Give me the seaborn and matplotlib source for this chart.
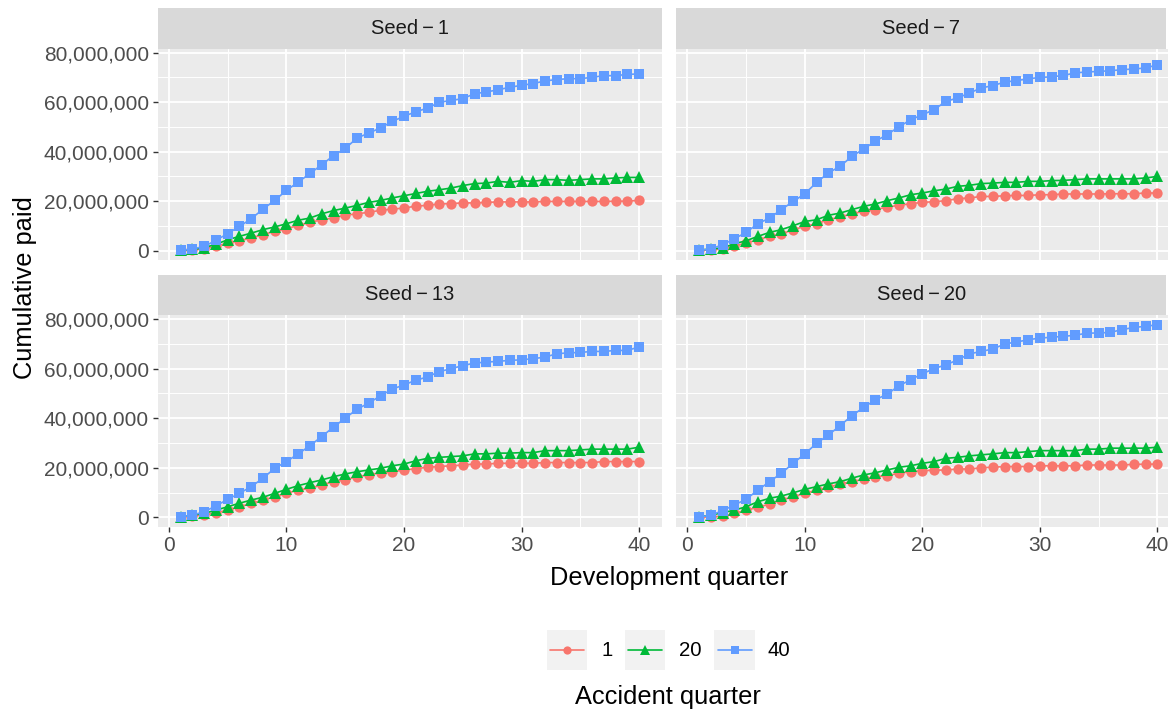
import numpy as np
import pandas as pd
import matplotlib
matplotlib.use("Agg")
import matplotlib.pyplot as plt
import seaborn as sns
from matplotlib.ticker import FuncFormatter, MultipleLocator

# ---- data (cumulative paid, in millions) ----
dev_quarter = list(range(1, 41))
seeds = [1, 7, 13, 20]
accident_quarters = [1, 20, 40]

seed1_aq1 = [0.1, 0.3, 0.7, 1.8, 3.1, 4.0, 5.1, 6.5, 7.8, 8.9, 10.2, 11.4, 12.5, 13.2, 14.3, 14.9,
             15.5, 16.3, 16.8, 17.2, 18.0, 18.3, 18.9, 19.0, 19.3, 19.3, 19.5, 19.7, 19.7, 19.7,
             19.7, 19.9, 19.9, 19.9, 19.9, 19.9, 19.9, 20.0, 20.0, 20.3]
seed1_aq20 = [0.2, 0.5, 1.2, 2.6, 4.4, 5.8, 7.1, 8.5, 9.6, 10.9, 12.3, 13.2, 14.9, 16.2, 17.2, 18.3,
              19.5, 20.3, 21.3, 22.2, 23.1, 24.0, 24.6, 25.3, 26.3, 27.1, 27.3, 28.0, 27.6, 28.3,
              28.0, 28.7, 28.7, 28.4, 28.7, 29.0, 29.0, 29.4, 29.6, 29.6]
seed1_aq40 = [0.1, 0.7, 1.7, 4.2, 6.9, 9.8, 12.9, 16.8, 20.3, 24.4, 27.7, 31.2, 34.7, 38.4, 41.3,
              45.5, 47.5, 49.6, 52.2, 54.3, 56.1, 57.6, 59.9, 60.7, 61.4, 63.4, 64.1, 65.0, 66.0,
              66.8, 67.5, 68.6, 69.1, 69.5, 69.5, 70.0, 70.7, 70.7, 71.2, 71.4]

seed7_aq1 = [0.1, 0.3, 0.7, 1.8, 3.1, 4.4, 5.8, 6.7, 8.5, 9.8, 10.9, 12.5, 13.6, 14.9, 15.9, 16.6,
             17.6, 18.3, 19.0, 19.5, 19.8, 20.2, 21.0, 21.3, 21.9, 21.9, 22.2, 22.3, 22.3, 22.6,
             22.6, 22.9, 22.9, 22.9, 22.9, 23.0, 23.0, 23.0, 23.3, 23.3]
seed7_aq20 = [0.2, 0.7, 1.1, 2.8, 4.0, 5.8, 7.4, 8.5, 10.1, 11.8, 12.5, 14.3, 15.2, 16.6, 17.9, 18.9,
              20.2, 21.3, 22.6, 23.3, 24.2, 24.9, 26.0, 26.4, 27.1, 27.3, 27.6, 27.6, 28.0, 28.0,
              28.3, 28.4, 28.7, 29.0, 29.0, 29.0, 29.0, 29.0, 29.4, 30.0]
seed7_aq40 = [0.1, 0.7, 2.4, 4.8, 7.4, 10.9, 13.2, 16.6, 19.9, 23.0, 27.6, 31.4, 34.1, 38.1, 41.1,
              44.2, 46.9, 50.0, 52.9, 54.9, 57.0, 60.3, 61.7, 63.7, 65.7, 66.7, 68.1, 68.7, 69.4,
              70.0, 70.2, 70.8, 71.8, 72.2, 72.4, 72.7, 73.1, 73.4, 73.8, 75.1]

seed13_aq1 = [0.1, 0.5, 0.9, 1.9, 2.9, 4.3, 5.6, 7.0, 8.3, 9.7, 11.0, 11.7, 13.0, 14.4, 15.1, 16.4,
              17.1, 18.0, 18.4, 19.1, 19.6, 20.2, 20.5, 20.8, 21.1, 21.5, 21.5, 21.8, 21.8, 21.8,
              21.8, 22.1, 22.1, 22.1, 22.1, 22.1, 22.5, 22.5, 22.5, 22.5]
seed13_aq20 = [0.2, 0.9, 1.6, 2.9, 4.3, 5.7, 7.0, 8.1, 9.7, 11.3, 12.8, 14.0, 15.1, 16.4, 17.5, 18.4,
               19.1, 19.8, 20.8, 21.5, 22.8, 23.8, 24.2, 24.5, 24.8, 25.6, 25.6, 25.9, 25.9, 26.1,
               26.1, 26.9, 26.9, 26.9, 27.2, 27.5, 27.5, 27.5, 27.5, 28.3]
seed13_aq40 = [0.2, 0.9, 2.3, 4.6, 7.3, 9.7, 12.4, 15.8, 19.8, 22.5, 25.6, 28.9, 32.6, 36.4, 40.0,
               43.6, 46.1, 49.0, 51.7, 53.4, 55.3, 56.6, 58.8, 59.9, 61.2, 62.2, 62.6, 62.9, 63.3,
               63.5, 64.0, 64.6, 66.0, 66.3, 66.5, 66.9, 66.9, 67.3, 67.3, 68.7]

seed20_aq1 = [0.0, 0.2, 0.5, 1.6, 2.9, 4.0, 5.4, 7.0, 8.3, 9.7, 11.0, 12.1, 13.5, 14.4, 15.4, 16.4,
              16.8, 17.8, 18.4, 18.8, 19.0, 19.1, 19.5, 19.5, 20.0, 20.2, 20.5, 20.5, 20.5, 20.8,
              20.8, 20.8, 20.8, 21.1, 21.1, 21.1, 21.1, 21.4, 21.4, 21.5]
seed20_aq20 = [0.2, 0.9, 1.9, 2.9, 4.3, 6.3, 7.7, 8.6, 9.9, 11.3, 12.4, 13.5, 14.4, 15.8, 17.1, 18.0,
               19.1, 20.2, 20.8, 21.8, 22.5, 23.8, 24.2, 24.8, 25.2, 25.6, 26.1, 26.1, 26.5, 26.9,
               26.9, 26.9, 26.9, 27.5, 27.5, 27.9, 27.9, 27.9, 27.9, 28.3]
seed20_aq40 = [0.1, 0.9, 2.7, 5.0, 7.3, 11.0, 14.4, 17.8, 21.8, 25.6, 29.9, 33.2, 37.0, 41.0, 44.3,
               47.4, 49.7, 53.0, 55.5, 57.9, 60.0, 61.5, 63.5, 65.9, 66.9, 67.9, 69.9, 70.7, 71.6,
               72.3, 72.6, 73.0, 73.4, 74.3, 74.3, 74.6, 75.7, 76.6, 77.0, 77.7]

series = {
    (1, 1): seed1_aq1, (1, 20): seed1_aq20, (1, 40): seed1_aq40,
    (7, 1): seed7_aq1, (7, 20): seed7_aq20, (7, 40): seed7_aq40,
    (13, 1): seed13_aq1, (13, 20): seed13_aq20, (13, 40): seed13_aq40,
    (20, 1): seed20_aq1, (20, 20): seed20_aq20, (20, 40): seed20_aq40,
}

rows = []
for (seed, aq), vals in series.items():
    for d, v in zip(dev_quarter, vals):
        rows.append({"seed": seed, "aq": aq, "dev": d, "paid": v * 1e6})
df = pd.DataFrame(rows)

# ---- styling ----
sns.set_theme(style="darkgrid")
plt.rcParams["font.family"] = ["Liberation Sans", "DejaVu Sans"]

palette = {1: "#F8766D", 20: "#00BA38", 40: "#619CFF"}
marker_map = {1: "o", 20: "^", 40: "s"}
marker_size = {1: 7.4, 20: 8.6, 40: 7.3}

W, H = 1168, 711
fig = plt.figure(figsize=(W / 100, H / 100), dpi=100)
fig.patch.set_facecolor("white")


def px_axes(left, top, right, bottom):
    return fig.add_axes([left / W, 1 - bottom / H, (right - left) / W, (bottom - top) / H])


panel_px = {
    1: (157.8, 48.7, 662.0, 260.3),
    7: (676.2, 48.7, 1180.4, 260.3),
    13: (157.8, 315.0, 662.0, 527.0),
    20: (676.2, 315.0, 1180.4, 527.0),
}
strip_px = {
    1: (157.8, 8.0, 662.0, 48.7),
    7: (676.2, 8.0, 1166.0, 48.7),
    13: (157.8, 275.0, 662.0, 315.0),
    20: (676.2, 275.0, 1166.0, 315.0),
}

xmin, xmax = min(dev_quarter), max(dev_quarter)
xpad = 0.05 * (xmax - xmin)
ymin, ymax = df["paid"].min(), df["paid"].max()
ypad = 0.05 * (ymax - ymin)

comma = FuncFormatter(lambda v, p: f"{int(round(v)):,}")

for seed in seeds:
    l, t, r, b = panel_px[seed]
    ax = px_axes(l, t, r, b)
    ax.set_facecolor("#EBEBEB")
    sub = df[df["seed"] == seed]
    for aq in accident_quarters:
        s = sub[sub["aq"] == aq]
        sns.lineplot(data=s, x="dev", y="paid", ax=ax, color=palette[aq],
                     marker=marker_map[aq], markersize=marker_size[aq],
                     markeredgewidth=0, linewidth=1.2, legend=False)
    ax.set_xlim(xmin - xpad, xmax + xpad)
    ax.set_ylim(ymin - ypad, ymax + ypad)
    ax.xaxis.set_major_locator(MultipleLocator(10))
    ax.xaxis.set_minor_locator(MultipleLocator(5))
    ax.yaxis.set_major_locator(MultipleLocator(20e6))
    ax.yaxis.set_minor_locator(MultipleLocator(10e6))
    ax.yaxis.set_major_formatter(comma)
    ax.grid(which="major", color="white", linewidth=1.35)
    ax.grid(which="minor", color="white", linewidth=0.7)
    ax.set_axisbelow(True)
    for sp in ax.spines.values():
        sp.set_visible(False)
    ax.set_xlabel("")
    ax.set_ylabel("")
    ax.tick_params(which="major", length=3.3, width=1.0, color="#333333",
                   labelsize=15, labelcolor="#4D4D4D", pad=3)
    ax.tick_params(which="minor", length=0)
    ax.tick_params(axis="x", bottom=seed in (13, 20), labelbottom=seed in (13, 20))
    ax.tick_params(axis="y", left=seed in (1, 13), labelleft=seed in (1, 13))

    # facet strip
    sl, st, sr, sb = strip_px[seed]
    sax = px_axes(sl, st, sr, sb)
    sax.set_facecolor("#D9D9D9")
    sax.set_xticks([])
    sax.set_yticks([])
    sax.grid(False)
    for sp in sax.spines.values():
        sp.set_visible(False)
    sax.text(0.5, 0.5, f"Seed\u2009\u2212\u2009{seed}", ha="center", va="center",
             fontsize=14.5, color="#1A1A1A", transform=sax.transAxes)

# axis titles
fig.text(669 / W, 1 - 578 / H, "Development quarter", ha="center", va="center",
         fontsize=18.3, color="black")
fig.text(25 / W, 1 - 288 / H, "Cumulative paid", ha="center", va="center",
         rotation=90, fontsize=18.3, color="black")

# legend
key_boxes = [(546.7, 630, 587.3, 670), (625.0, 630, 665.0, 670), (714.3, 630, 755.0, 670)]
label_x = [601.7, 679.0, 767.0]
for aq, (l, t, r, b), lx in zip(accident_quarters, key_boxes, label_x):
    kax = px_axes(l, t, r, b)
    kax.set_facecolor("#F2F2F2")
    kax.set_xlim(0, 1)
    kax.set_ylim(0, 1)
    kax.set_xticks([])
    kax.set_yticks([])
    kax.grid(False)
    for sp in kax.spines.values():
        sp.set_visible(False)
    kax.plot([0.08, 0.92], [0.5, 0.5], color=palette[aq], linewidth=1.2)
    kax.plot([0.5], [0.5], color=palette[aq], marker=marker_map[aq],
             markersize=marker_size[aq] * 0.8, markeredgewidth=0, linestyle="none")
    fig.text(lx / W, 1 - 650 / H, str(aq), ha="left", va="center",
             fontsize=14.7, color="black")

fig.text(668 / W, 1 - 697 / H, "Accident quarter", ha="center", va="center",
         fontsize=18.3, color="black")

fig.savefig("out.png", dpi=100, facecolor="white")
